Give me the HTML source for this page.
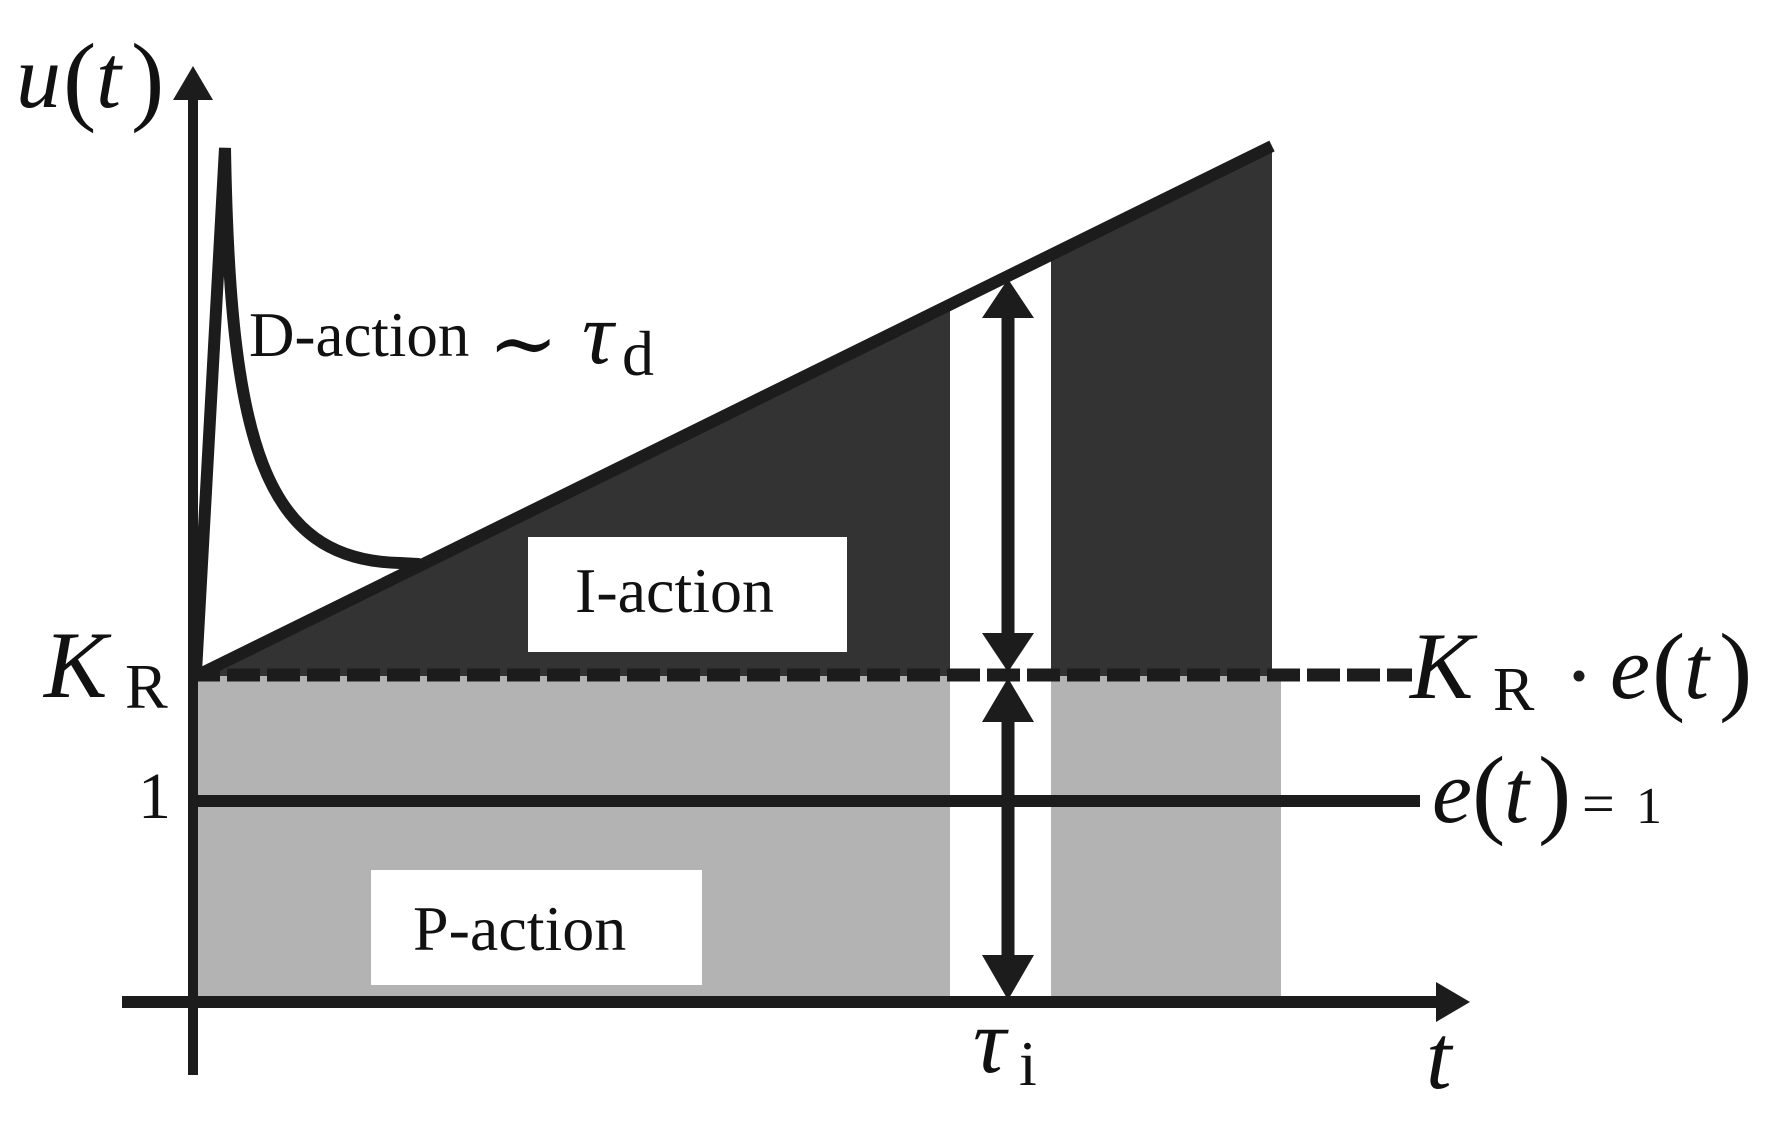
<!DOCTYPE html>
<html>
<head>
<meta charset="utf-8">
<style>
  html, body { margin: 0; padding: 0; background: #ffffff; }
  body { width: 1778px; height: 1130px; overflow: hidden; }
  svg { display: block; }
  text { font-family: "Liberation Serif", "DejaVu Serif", serif; fill: #111111; }
  text.sym { font-family: "DejaVu Serif", "Liberation Serif", serif; }
</style>
</head>
<body>
<svg width="1778" height="1130" viewBox="0 0 1778 1130" xmlns="http://www.w3.org/2000/svg">
  <rect x="0" y="0" width="1778" height="1130" fill="#ffffff"/>

  <!-- light grey P-action areas -->
  <rect x="193" y="675" width="757" height="327" fill="#b3b3b3"/>
  <rect x="1051" y="675" width="230" height="327" fill="#b3b3b3"/>

  <!-- dark I-action areas -->
  <polygon points="196,676 950,305 950,676" fill="#333333"/>
  <polygon points="1051,676 1051,255 1272,146 1272,676" fill="#333333"/>

  <!-- white label boxes -->
  <rect x="528" y="537" width="319" height="115" fill="#ffffff"/>
  <rect x="371" y="870" width="331" height="115" fill="#ffffff"/>

  <g stroke="#1c1c1c" fill="none">
    <!-- e(t)=1 line -->
    <line x1="193" y1="801" x2="1420" y2="801" stroke-width="12"/>
    <!-- dashed K_R line -->
    <line x1="196" y1="675" x2="1412" y2="675" stroke-width="13" stroke-dasharray="33 7" stroke-dashoffset="9"/>
    <!-- slope line -->
    <line x1="196" y1="676" x2="1272" y2="146" stroke-width="12"/>
    <!-- D spike and curve -->
    <path d="M196,672 L225,148 C230,440 262,560 400,563 L418,564" stroke-width="12" stroke-linejoin="bevel" stroke-linecap="round"/>
    <!-- y-axis -->
    <line x1="193" y1="1075" x2="193" y2="96" stroke-width="10"/>
    <!-- x-axis -->
    <line x1="122" y1="1002" x2="1440" y2="1002" stroke-width="12"/>
    <!-- double arrow shafts -->
    <line x1="1008" y1="312" x2="1008" y2="640" stroke-width="13"/>
    <line x1="1008" y1="715" x2="1008" y2="962" stroke-width="13"/>
  </g>

  <g fill="#1c1c1c">
    <!-- axis arrowheads -->
    <polygon points="193,66 173,100 213,100"/>
    <polygon points="1470,1002 1436,982 1436,1022"/>
    <!-- upper double arrow -->
    <polygon points="1008,279 982,318 1034,318"/>
    <polygon points="1008,672 982,633 1034,633"/>
    <!-- lower double arrow -->
    <polygon points="1008,678 982,722 1034,722"/>
    <polygon points="1008,1000 982,955 1034,955"/>
    <!-- cdot -->
    <circle cx="1579" cy="676" r="5.5"/>
  </g>

  <!-- u(t) -->
  <text x="16" y="107" font-size="90" font-style="italic">u</text>
  <text x="63" y="112" font-size="100">(</text>
  <text x="96" y="107" font-size="90" font-style="italic">t</text>
  <text x="131" y="112" font-size="100">)</text>

  <!-- D-action ~ tau_d -->
  <text x="249" y="356" font-size="63">D-action</text>
  <text class="sym" x="488" y="372" font-size="84">∼</text>
  <text x="582" y="363" font-size="88" font-style="italic">τ</text>
  <text x="622" y="375" font-size="64">d</text>

  <!-- I-action / P-action -->
  <text x="575" y="612" font-size="64">I-action</text>
  <text x="413" y="950" font-size="64">P-action</text>

  <!-- K_R left -->
  <text x="44" y="697" font-size="95" font-style="italic">K</text>
  <text x="125" y="708" font-size="64">R</text>

  <!-- 1 label -->
  <text x="138" y="818" font-size="66">1</text>

  <!-- K_R . e(t) right -->
  <text x="1410" y="698" font-size="95" font-style="italic">K</text>
  <text x="1493" y="710" font-size="62">R</text>
  <text x="1610" y="698" font-size="90" font-style="italic">e</text>
  <text x="1652" y="702" font-size="100">(</text>
  <text x="1684" y="698" font-size="90" font-style="italic">t</text>
  <text x="1719" y="702" font-size="100">)</text>

  <!-- e(t) = 1 -->
  <text x="1432" y="822" font-size="90" font-style="italic">e</text>
  <text x="1472" y="825" font-size="100">(</text>
  <text x="1504" y="822" font-size="90" font-style="italic">t</text>
  <text x="1538" y="825" font-size="100">)</text>
  <text x="1582" y="823" font-size="58">=</text>
  <text x="1636" y="823" font-size="52">1</text>

  <!-- tau_i -->
  <text x="973" y="1072" font-size="92" font-style="italic">τ</text>
  <text x="1019" y="1085" font-size="64">i</text>

  <!-- t -->
  <text x="1426" y="1088" font-size="92" font-style="italic">t</text>
</svg>
</body>
</html>
